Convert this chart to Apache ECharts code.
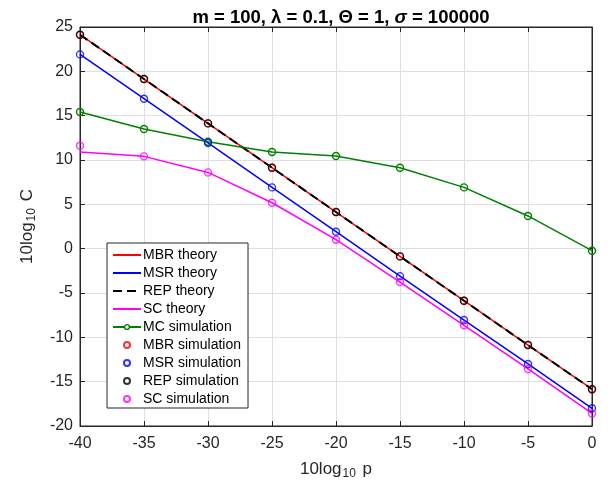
<!DOCTYPE html>
<html><head><meta charset="utf-8">
<script src="https://cdn.jsdelivr.net/npm/echarts@6/dist/echarts.min.js"></script>
<style>html,body{margin:0;padding:0;background:#fff}#c{width:608px;height:489px}</style>
</head><body><div id="c"></div>
<script>
const xVals = [-40, -35, -30, -25, -20, -15, -10, -5, 0];
const xTicks = [-40, -35, -30, -25, -20, -15, -10, -5, 0];
const yTicks = [-20, -15, -10, -5, 0, 5, 10, 15, 20, 25];
const mbrTheory = [24.13, 19.13, 14.13, 9.13, 4.13, -0.87, -5.87, -10.87, -15.85];
const msrTheory = [21.91, 16.91, 11.92, 6.91, 1.91, -3.1, -8.05, -13.0, -18.0];
const repTheory = [24.13, 19.13, 14.13, 9.13, 4.13, -0.87, -5.87, -10.87, -15.85];
const scTheory = [10.9, 10.41, 8.6, 5.18, 1.01, -3.76, -8.65, -13.57, -18.58];
const mcSim = [15.41, 13.5, 12.06, 10.9, 10.45, 9.13, 6.91, 3.69, -0.23];
const mbrSim = [24.13, 19.13, 14.13, 9.13, 4.13, -0.87, -5.87, -10.87, -15.85];
const msrSim = [21.91, 16.91, 11.92, 6.91, 1.91, -3.1, -8.05, -13.0, -18.0];
const repSim = [24.13, 19.13, 14.13, 9.13, 4.13, -0.87, -5.87, -10.87, -15.85];
const scSim = [11.6, 10.41, 8.6, 5.18, 1.01, -3.76, -8.65, -13.57, -18.58];

const pairs = arr => xVals.map((x, i) => [x, arr[i]]);
const font = 'Liberation Sans, Arial, Helvetica, sans-serif';
const axCol = '#262626';

function theory(name, data, color, dash) {
  return { name, type: 'line', data: pairs(data), symbol: 'none', showSymbol: false,
    lineStyle: { color, width: dash ? 2 : 1.5, type: dash ? [9, 5] : 'solid' },
    itemStyle: { color }, z: 2, animation: false };
}
function sim(name, data, color) {
  return { name, type: 'scatter', data: pairs(data), symbol: 'circle', symbolSize: 7,
    itemStyle: { color: 'rgba(0,0,0,0)', borderColor: color, borderWidth: 1.4 }, z: 4, animation: false };
}
const noSym = { opacity: 0 };

const chart = echarts.init(document.getElementById('c'), null, { renderer: 'canvas' });
chart.setOption({
  backgroundColor: '#fff',
  textStyle: { fontFamily: font },
  title: {
    text: '{b|m = 100, λ = 0.1, Θ = 1, }{i|σ}{b| = 100000}',
    left: 336, top: 3, textAlign: 'center',
    textStyle: { rich: {
      b: { fontSize: 18.5, fontWeight: 'bold', color: '#000', fontFamily: font },
      i: { fontSize: 18.5, fontWeight: 'bold', fontStyle: 'italic', color: '#000', fontFamily: font }
    } }
  },
  grid: { left: 80, right: 16, top: 27, bottom: 63, show: true, borderColor: axCol, borderWidth: 1, backgroundColor: '#fff' },
  legend: {
    orient: 'vertical', left: 107, top: 243,
    backgroundColor: '#fff', borderColor: axCol, borderWidth: 1,
    padding: [4, 7, 1, 5], itemWidth: 28, itemHeight: 6, itemGap: 2,
    textStyle: { fontSize: 14, color: '#000', fontFamily: font, lineHeight: 16, padding: [0, 0, 0, -3] },
    data: [
      { name: 'MBR theory', itemStyle: noSym },
      { name: 'MSR theory', itemStyle: noSym },
      { name: 'REP theory', itemStyle: noSym },
      { name: 'SC theory', itemStyle: noSym },
      { name: 'MC simulation', itemStyle: { color: '#ffffff', borderColor: '#008000', borderWidth: 1.4 } },
      'MBR simulation', 'MSR simulation', 'REP simulation', 'SC simulation']
  },
  xAxis: [{
    type: 'value', min: -40, max: 0, interval: 5, position: 'bottom',
    name: '{a|10log}{s|10}{a| p}', nameLocation: 'middle', nameGap: 32,
    nameTextStyle: { rich: { a: { fontSize: 17, color: axCol, fontFamily: font }, s: { fontSize: 12, color: axCol, fontFamily: font, padding: [10, 2, 0, 1] } } },
    axisLine: { show: true, onZero: false, lineStyle: { color: axCol } },
    axisTick: { show: true, inside: true, length: 5, lineStyle: { color: axCol } },
    axisLabel: { fontSize: 16, color: axCol, margin: 10, fontFamily: font, formatter: v => xTicks.includes(v) ? String(v) : '' },
    splitLine: { show: true, lineStyle: { color: '#dfdfdf', width: 1 } }
  }, {
    type: 'value', min: -40, max: 0, interval: 5, position: 'top',
    axisLine: { show: true, onZero: false, lineStyle: { color: axCol } },
    axisTick: { show: true, inside: true, length: 5, lineStyle: { color: axCol } },
    axisLabel: { show: false }, splitLine: { show: false }
  }],
  yAxis: [{
    type: 'value', min: -20, max: 25, interval: 5, position: 'left',
    name: '{a|10log}{s|10}{a| C}', nameLocation: 'middle', nameGap: 42, nameRotate: 90,
    nameTextStyle: { rich: { a: { fontSize: 17, color: axCol, fontFamily: font }, s: { fontSize: 12, color: axCol, fontFamily: font, padding: [10, 2, 0, 1] } } },
    axisLine: { show: true, onZero: false, lineStyle: { color: axCol } },
    axisTick: { show: true, inside: true, length: 5, lineStyle: { color: axCol } },
    axisLabel: { fontSize: 16, color: axCol, margin: 7, fontFamily: font, formatter: v => yTicks.includes(v) ? String(v) : '' },
    splitLine: { show: true, lineStyle: { color: '#dfdfdf', width: 1 } }
  }, {
    type: 'value', min: -20, max: 25, interval: 5, position: 'right',
    axisLine: { show: true, onZero: false, lineStyle: { color: axCol } },
    axisTick: { show: true, inside: true, length: 5, lineStyle: { color: axCol } },
    axisLabel: { show: false }, splitLine: { show: false }
  }],
  series: [
    theory('MBR theory', mbrTheory, '#ff0000', false),
    theory('MSR theory', msrTheory, '#0000ff', false),
    theory('REP theory', repTheory, '#000000', true),
    theory('SC theory', scTheory, '#ff00ff', false),
    { name: 'MC simulation', type: 'line', data: pairs(mcSim), symbol: 'circle', symbolSize: 7, showSymbol: true,
      lineStyle: { color: '#008000', width: 1.5 },
      itemStyle: { color: 'rgba(0,0,0,0)', borderColor: '#008000', borderWidth: 1.4 }, z: 3, animation: false },
    sim('MBR simulation', mbrSim, '#ff0000'),
    sim('MSR simulation', msrSim, '#0000ff'),
    sim('REP simulation', repSim, '#000000'),
    sim('SC simulation', scSim, '#ff00ff')
  ]
});
</script></body></html>
